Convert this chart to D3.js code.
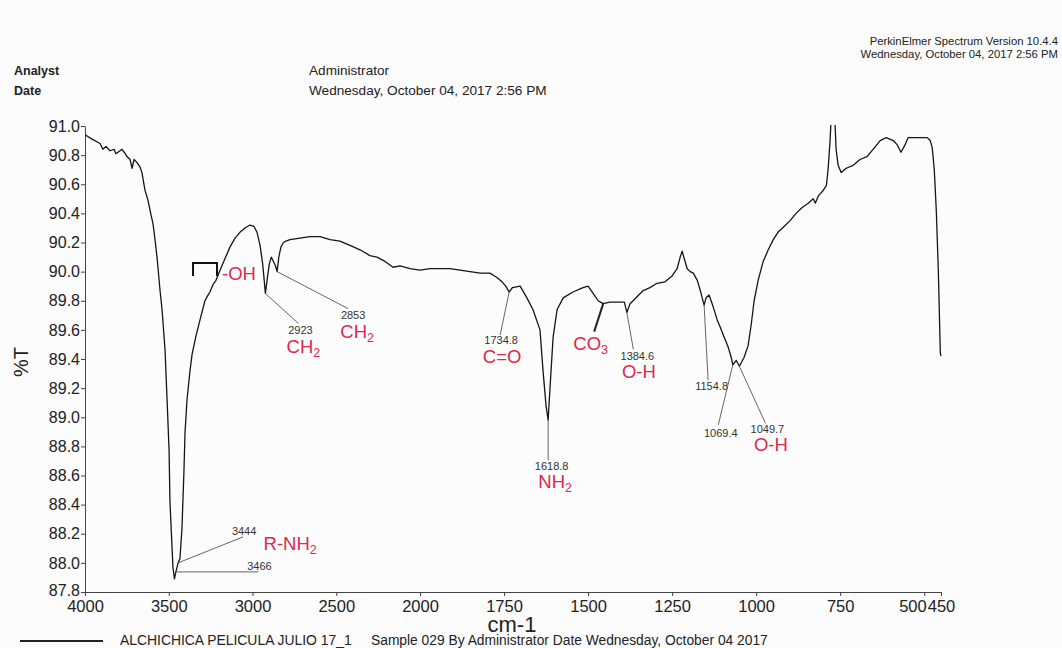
<!DOCTYPE html>
<html>
<head>
<meta charset="utf-8">
<script src="https://cdn.jsdelivr.net/npm/d3@7"></script>
<style>
  html, body { margin: 0; padding: 0; background: #fcfcfc; }
  svg { display: block; font-family: "Liberation Sans", Arial, Helvetica, sans-serif; }
</style>
</head>
<body>
<svg id="chart" width="1062" height="648"></svg>
<script>
// FT-IR spectrum: wavenumber (cm-1) and transmittance (%T)
const wavenumber = [
  4000, 3958, 3910, 3893, 3875, 3851, 3827, 3815, 3803, 3779, 3760, 3749, 3731, 3719, 3707, 3690,
  3672, 3660, 3654, 3642, 3624, 3606, 3594, 3582, 3570, 3552, 3540, 3522, 3510, 3498, 3493, 3481,
  3475, 3466, 3457, 3444, 3433, 3421, 3409, 3403, 3391, 3373, 3361, 3337, 3313, 3284, 3270, 3254,
  3236, 3218, 3194, 3164, 3134, 3104, 3075, 3045, 3015, 2991, 2973, 2955, 2940, 2930, 2923, 2912,
  2900, 2888, 2875, 2863, 2853, 2843, 2830, 2815, 2800, 2776, 2716, 2657, 2597, 2537, 2478, 2418,
  2358, 2299, 2257, 2209, 2161, 2119, 2060, 2000, 1970, 1940, 1911, 1881, 1851, 1821, 1792, 1771,
  1756, 1745, 1734.8, 1725, 1702, 1682, 1664, 1643, 1634, 1625, 1618.8, 1613, 1604, 1592, 1574, 1545,
  1515, 1500, 1485, 1470, 1455, 1435, 1411, 1392, 1384.6, 1375, 1366, 1336, 1316, 1295, 1271, 1250,
  1235, 1226, 1220, 1214, 1205, 1196, 1187, 1175, 1166, 1154.8, 1149, 1140, 1128, 1116, 1107, 1095,
  1083, 1074, 1069.4, 1059, 1049.7, 1036, 1024, 1015, 1006, 994, 979, 964, 949, 935, 917, 899,
  881, 863, 845, 830, 824, 815, 803, 791, 786, 780, 777, 774, 768, 765, 762, 756,
  747, 732, 711, 691, 670, 652, 631, 613, 592, 580, 569, 557, 548, 533, 518, 503,
  491, 482, 476, 470, 464, 458, 452, 450
];
const transmittance = [
  90.94, 90.91, 90.88, 90.84, 90.86, 90.83, 90.84, 90.81, 90.82, 90.84, 90.81, 90.79, 90.77, 90.71, 90.77, 90.75,
  90.72, 90.68, 90.64, 90.56, 90.49, 90.39, 90.33, 90.22, 90.10, 89.87, 89.74, 89.46, 89.12, 88.77, 88.43, 88.12,
  87.97, 87.89, 87.94, 88.00, 88.03, 88.24, 88.64, 88.89, 89.12, 89.32, 89.43, 89.56, 89.67, 89.80, 89.83, 89.86,
  89.91, 89.94, 90.01, 90.09, 90.17, 90.23, 90.27, 90.30, 90.32, 90.31, 90.27, 90.18, 90.06, 89.94, 89.85, 89.95,
  90.05, 90.10, 90.07, 90.04, 90.00, 90.10, 90.17, 90.20, 90.21, 90.22, 90.23, 90.24, 90.24, 90.22, 90.21, 90.18,
  90.15, 90.11, 90.10, 90.07, 90.03, 90.04, 90.02, 90.01, 90.02, 90.02, 90.02, 90.01, 90.00, 89.99, 89.99, 89.96,
  89.93, 89.90, 89.86, 89.89, 89.90, 89.82, 89.74, 89.60, 89.32, 89.08, 88.98, 89.21, 89.55, 89.74, 89.82, 89.86,
  89.89, 89.90, 89.85, 89.80, 89.78, 89.79, 89.79, 89.79, 89.72, 89.78, 89.80, 89.87, 89.89, 89.92, 89.93, 89.97,
  90.02, 90.10, 90.14, 90.09, 90.02, 90.00, 89.99, 89.94, 89.87, 89.77, 89.82, 89.84, 89.76, 89.67, 89.62, 89.55,
  89.48, 89.41, 89.36, 89.39, 89.35, 89.41, 89.49, 89.63, 89.80, 89.94, 90.07, 90.15, 90.22, 90.27, 90.31, 90.35,
  90.40, 90.44, 90.47, 90.50, 90.47, 90.52, 90.55, 90.59, 90.70, 90.90, 91.04, 91.15, 91.15, 91.00, 90.84, 90.73,
  90.68, 90.71, 90.73, 90.77, 90.79, 90.84, 90.90, 90.92, 90.90, 90.87, 90.82, 90.87, 90.92, 90.92, 90.92, 90.92,
  90.92, 90.90, 90.85, 90.70, 90.42, 90.01, 89.44, 89.42
];

// Axis ticks
const xTicks = [4000, 3500, 3000, 2500, 2000, 1750, 1500, 1250, 1000, 750, 500, 450];
const yTicks = [91.0, 90.8, 90.6, 90.4, 90.2, 90.0, 89.8, 89.6, 89.4, 89.2, 89.0, 88.8, 88.6, 88.4, 88.2, 88.0, 87.8];

// Assigned bands: position, printed value and functional group (text, subscript)
const peakWavenumbers = [3466, 3444, 2923, 2853, 1734.8, 1618.8, 1455, 1384.6, 1154.8, 1069.4, 1049.7];
const peakNumbers = ["3466", "3444", "2923", "2853", "1734.8", "1618.8", "", "1384.6", "1154.8", "1069.4", "1049.7"];
const peakGroups = [null, ["R-NH", "2"], ["CH", "2"], ["CH", "2"], ["C=O", ""], ["NH", "2"], ["CO", "3"], ["O-H", ""], null, null, ["O-H", ""]];
// O-H stretching band marked with a bracket
const hydroxylBand = [3355, 3212];
const hydroxylLevel = 90.06;

// Label placement (pixel offsets from each band's point on the trace)
const leaderFrom = [[2, -7], [0, 0], [0, 0], [0, 0], [0, 0], [0, 0], [0, 0], [0, 0], [0, 0], [0, 0], [0, 0]];
const leaderTo = [[84, -7], [65, -26], [33, 30], [71, 37], [-9, 43], [0, 40], [-9, 28], [6.5, 37], [4, 75], [-14.5, 60], [26, 57]];
const numberAt = [[85, -9], [66, -28], [35, 40.5], [76, 47], [-8, 52], [3.5, 50], [0, 0], [10.5, 48], [7.5, 85], [-12, 72], [28, 67]];
const groupAt = [null, [112, -13], [38, 60], [80, 66], [-7, 71], [7, 68], [-12.5, 46.5], [12, 66], null, null, [31.5, 85]];

const red = "#e3264d";
const ink = "#222";

const svg = d3.select("#chart");

const x = d3.scaleLinear().domain([4000, 2000, 450]).range([85, 420, 941]);
const y = d3.scaleLinear().domain([87.8, 91.0]).range([592, 126]);

// Header
const header = svg.append("g").attr("fill", ink);
header.append("text").attr("x", 14).attr("y", 75).attr("font-size", 12.5).attr("font-weight", "bold").text("Analyst");
header.append("text").attr("x", 14).attr("y", 95).attr("font-size", 12.5).attr("font-weight", "bold").text("Date");
header.append("text").attr("x", 309).attr("y", 75).attr("font-size", 13.6).text("Administrator");
header.append("text").attr("x", 309).attr("y", 95).attr("font-size", 13.6).text("Wednesday, October 04, 2017 2:56 PM");
header.append("text").attr("x", 1058).attr("y", 45).attr("font-size", 11.3).attr("text-anchor", "end").text("PerkinElmer Spectrum Version 10.4.4");
header.append("text").attr("x", 1058).attr("y", 58).attr("font-size", 11.3).attr("text-anchor", "end").text("Wednesday, October 04, 2017 2:56 PM");

// Axes
const xAxis = svg.append("g")
  .attr("transform", `translate(0,${y(87.8)})`)
  .call(d3.axisBottom(x).tickValues(xTicks).tickSize(4).tickSizeOuter(0).tickPadding(4).tickFormat(d3.format("d")));
xAxis.selectAll("text").attr("font-size", 16.5).attr("fill", ink).attr("font-family", null);
xAxis.selectAll("text").filter(d => d === 500).attr("text-anchor", "end").attr("x", 2);

const yAxis = svg.append("g")
  .attr("transform", `translate(${x(4000)},0)`)
  .call(d3.axisLeft(y).tickValues(yTicks).tickSize(4).tickSizeOuter(0).tickPadding(1).tickFormat(d3.format(".1f")));
yAxis.selectAll("text").attr("font-size", 16).attr("fill", ink).attr("font-family", null);
yAxis.selectAll("text").filter(d => d === 87.8).attr("dy", "0.2em");

svg.selectAll(".domain, .tick line").attr("stroke", "#444");

svg.append("text")
  .attr("transform", `translate(28,${362}) rotate(-90)`)
  .attr("text-anchor", "middle").attr("font-size", 20).attr("fill", ink).text("%T");
svg.append("text")
  .attr("x", 512).attr("y", 632).attr("text-anchor", "middle").attr("font-size", 22).attr("fill", ink).text("cm-1");

// Spectrum trace
svg.append("clipPath").attr("id", "plot-clip")
  .append("rect").attr("x", x(4000)).attr("y", y(91.0) - 1).attr("width", x(450) - x(4000) + 2).attr("height", y(87.8) - y(91.0) + 1);

const spectrum = wavenumber.map((w, i) => [w, transmittance[i]]);
svg.append("path")
  .datum(spectrum)
  .attr("clip-path", "url(#plot-clip)")
  .attr("fill", "none")
  .attr("stroke", "#151515")
  .attr("stroke-width", 1.3)
  .attr("stroke-linejoin", "round")
  .attr("d", d3.line().x(d => x(d[0])).y(d => y(d[1])));

// Band annotations
const ann = svg.append("g");
peakWavenumbers.forEach((w, i) => {
  const t = transmittance[wavenumber.indexOf(w)];
  const px = x(w), py = y(t);
  ann.append("line")
    .attr("x1", px + leaderFrom[i][0]).attr("y1", py + leaderFrom[i][1])
    .attr("x2", px + leaderTo[i][0]).attr("y2", py + leaderTo[i][1])
    .attr("stroke", peakNumbers[i] ? "#555" : "#222")
    .attr("stroke-width", peakNumbers[i] ? 0.9 : 2);
  if (peakNumbers[i]) {
    ann.append("text")
      .attr("x", px + numberAt[i][0]).attr("y", py + numberAt[i][1])
      .attr("text-anchor", "middle").attr("font-size", 11).attr("fill", "#333")
      .text(peakNumbers[i]);
  }
  if (peakGroups[i]) {
    const g = ann.append("text")
      .attr("x", px + groupAt[i][0]).attr("y", py + groupAt[i][1])
      .attr("text-anchor", "middle").attr("font-size", 18.5).attr("fill", red);
    g.append("tspan").text(peakGroups[i][0]);
    if (peakGroups[i][1]) {
      g.append("tspan").attr("font-size", 12.5).attr("dy", 4).text(peakGroups[i][1]);
    }
  }
});

// Hydroxyl bracket
const bx1 = x(hydroxylBand[0]), bx2 = x(hydroxylBand[1]), by = y(hydroxylLevel);
ann.append("path")
  .attr("d", `M${bx1},${by + 13}V${by}H${bx2}V${by + 13}`)
  .attr("fill", "none").attr("stroke", "#111").attr("stroke-width", 2);
ann.append("text")
  .attr("x", bx2 + 5).attr("y", by + 17)
  .attr("font-size", 18.5).attr("fill", red).text("-OH");

// Legend
const legend = svg.append("g");
legend.append("line").attr("x1", 20).attr("x2", 103).attr("y1", 641).attr("y2", 641).attr("stroke", ink).attr("stroke-width", 2);
legend.append("text").attr("x", 120).attr("y", 645).attr("font-size", 13.9).attr("fill", ink).text("ALCHICHICA PELICULA JULIO 17_1");
legend.append("text").attr("x", 371).attr("y", 645).attr("font-size", 13.8).attr("fill", ink).text("Sample 029 By Administrator Date Wednesday, October 04 2017");
</script>
</body>
</html>
